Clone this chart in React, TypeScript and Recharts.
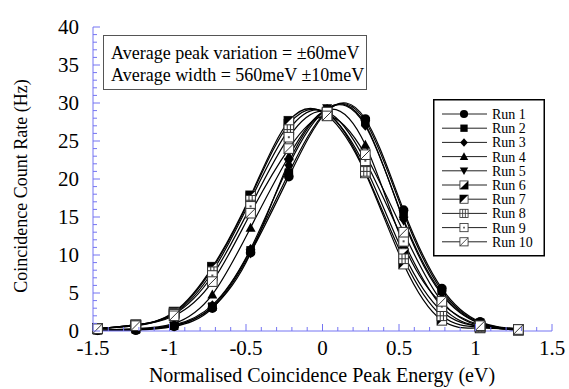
import { LineChart, Line, XAxis, YAxis } from 'recharts'

// normalised peak energy (eV) of each measured point
const energies = [-1.47, -1.22, -0.97, -0.72, -0.47, -0.22, 0.03, 0.28, 0.53, 0.78, 1.03, 1.28]

// coincidence count rate (Hz) per run
const run1 = [0.1, 0.1, 0.6, 3.0, 10.3, 20.3, 28.9, 27.9, 15.9, 5.6, 1.2, 0.3]
const run2 = [0.1, 0.2, 0.7, 3.2, 10.6, 20.8, 29.0, 27.6, 15.5, 5.3, 1.1, 0.3]
const run3 = [0.1, 0.2, 0.8, 3.4, 10.8, 21.8, 29.2, 27.0, 14.7, 5.0, 1.0, 0.2]
const run4 = [0.1, 0.3, 1.0, 4.8, 13.6, 23.0, 29.1, 24.5, 11.4, 3.6, 0.8, 0.2]
const run5 = [0.1, 0.2, 0.7, 3.1, 10.2, 22.2, 29.3, 27.2, 14.5, 4.8, 1.0, 0.2]
const run6 = [0.3, 0.8, 2.4, 8.2, 17.6, 27.2, 28.6, 21.6, 10.2, 2.6, 0.6, 0.2]
const run7 = [0.3, 0.8, 2.5, 8.4, 17.8, 27.6, 28.4, 20.8, 8.8, 1.4, 0.4, 0.1]
const run8 = [0.3, 0.8, 2.3, 7.8, 17.2, 26.5, 28.7, 21.0, 9.5, 2.0, 0.5, 0.1]
const run9 = [0.3, 0.7, 2.2, 7.3, 16.4, 25.5, 28.8, 22.4, 11.8, 3.2, 0.6, 0.2]
const run10 = [0.3, 0.7, 2.0, 6.5, 15.5, 24.0, 28.3, 23.2, 13.0, 3.9, 0.7, 0.2]

const runNames = ['Run 1', 'Run 2', 'Run 3', 'Run 4', 'Run 5', 'Run 6', 'Run 7', 'Run 8', 'Run 9', 'Run 10']
const runMarkers = ['circle', 'square', 'diamond', 'up', 'down', 'halfLR', 'halfUL', 'grid', 'dot', 'slash']

const xMajorTicks = [-1.5, -1, -0.5, 0, 0.5, 1, 1.5]
const yMajorTicks = [0, 5, 10, 15, 20, 25, 30, 35, 40]
const X_MINOR_STEP = 0.1
const Y_MINOR_STEP = 1

const notes = ['Average peak variation = \u00b160meV', 'Average width = 560meV \u00b110meV']
const xTitle = 'Normalised Coincidence Peak Energy (eV)'
const yTitle = 'Coincidence Count Rate (Hz)'

const FONT = '"Liberation Serif", "Times New Roman", serif'
const AXIS_BLUE = '#7474f2'

const allRuns = [run1, run2, run3, run4, run5, run6, run7, run8, run9, run10]

const chartData = energies.map((x, i) => {
  const row: Record<string, number> = { x }
  allRuns.forEach((r, k) => {
    row[`r${k + 1}`] = r[i]
  })
  return row
})

function minorTicks(majors: number[], step: number) {
  const out: number[] = []
  const lo = majors[0]
  const hi = majors[majors.length - 1]
  const n = Math.round((hi - lo) / step)
  for (let i = 0; i <= n; i++) out.push(+(lo + i * step).toFixed(4))
  return out
}

const xTicks = minorTicks(xMajorTicks, X_MINOR_STEP)
const yTicks = minorTicks(yMajorTicks, Y_MINOR_STEP)

const isMajor = (v: number, majors: number[]) => majors.some((m) => Math.abs(m - v) < 1e-6)

function Marker({ kind, cx, cy }: { kind: string; cx: number; cy: number }) {
  const s = 4.8
  const box = { x: cx - s, y: cy - s, width: 2 * s, height: 2 * s }
  const openBox = <rect {...box} fill="#fff" stroke="#333" strokeWidth={1} />
  switch (kind) {
    case 'circle':
      return <circle cx={cx} cy={cy} r={4.8} fill="#000" />
    case 'square':
      return <rect x={cx - 4.3} y={cy - 4.3} width={8.6} height={8.6} fill="#000" />
    case 'diamond':
      return <polygon points={`${cx},${cy - 5} ${cx + 4.5},${cy} ${cx},${cy + 5} ${cx - 4.5},${cy}`} fill="#000" />
    case 'up':
      return <polygon points={`${cx},${cy - 5} ${cx + 5},${cy + 4} ${cx - 5},${cy + 4}`} fill="#000" />
    case 'down':
      return <polygon points={`${cx},${cy + 5} ${cx + 5},${cy - 4} ${cx - 5},${cy - 4}`} fill="#000" />
    case 'halfLR':
      return (
        <g>
          {openBox}
          <polygon points={`${cx - s},${cy + s} ${cx + s},${cy + s} ${cx + s},${cy - s}`} fill="#000" />
        </g>
      )
    case 'halfUL':
      return (
        <g>
          {openBox}
          <polygon points={`${cx - s},${cy - s} ${cx + s},${cy - s} ${cx - s},${cy + s}`} fill="#000" />
        </g>
      )
    case 'grid':
      return (
        <g>
          {openBox}
          <line x1={cx - s / 3} y1={cy - s} x2={cx - s / 3} y2={cy + s} stroke="#333" />
          <line x1={cx + s / 3} y1={cy - s} x2={cx + s / 3} y2={cy + s} stroke="#333" />
          <line x1={cx - s} y1={cy} x2={cx + s} y2={cy} stroke="#333" />
        </g>
      )
    case 'dot':
      return (
        <g>
          {openBox}
          <rect x={cx - 1} y={cy - 1} width={2} height={2} fill="#555" />
        </g>
      )
    default:
      return (
        <g>
          {openBox}
          <line x1={cx - s} y1={cy + s} x2={cx + s} y2={cy - s} stroke="#333" />
        </g>
      )
  }
}

// tick renderers: ticks point into the plot, labels only on the bottom/left majors
function BottomTick({ x, y, payload }: any) {
  const major = isMajor(payload.value, xMajorTicks)
  return (
    <g>
      <line x1={x} y1={y} x2={x} y2={y - (major ? 7 : 4)} stroke={AXIS_BLUE} />
      {major && (
        <text x={x} y={y + 24} textAnchor="middle" fontSize={21} fontFamily={FONT} fill="#000">
          {payload.value}
        </text>
      )}
    </g>
  )
}

function TopTick({ x, y, payload }: any) {
  const major = isMajor(payload.value, xMajorTicks)
  return <line x1={x} y1={y} x2={x} y2={y + (major ? 7 : 4)} stroke={AXIS_BLUE} />
}

function LeftTick({ x, y, payload }: any) {
  const major = isMajor(payload.value, yMajorTicks)
  return (
    <g>
      <line x1={x} y1={y} x2={x + (major ? 7 : 4)} y2={y} stroke={AXIS_BLUE} />
      {major && (
        <text x={x - 14} y={y + 7} textAnchor="end" fontSize={21} fontFamily={FONT} fill="#000">
          {payload.value}
        </text>
      )}
    </g>
  )
}

function RightTick({ x, y, payload }: any) {
  const major = isMajor(payload.value, yMajorTicks)
  return <line x1={x} y1={y} x2={x - (major ? 7 : 4)} y2={y} stroke={AXIS_BLUE} />
}

export default function App() {
  return (
    <div style={{ position: 'absolute', left: 0, top: 0, width: 569, height: 389, background: '#fff' }}>
      <LineChart width={569} height={389} data={chartData} margin={{ top: 27, right: 17, bottom: 0, left: 0 }}>
        <XAxis
          xAxisId="b"
          dataKey="x"
          type="number"
          domain={[-1.5, 1.5]}
          ticks={xTicks}
          interval={0}
          height={58}
          tickSize={0}
          tickMargin={0}
          tickLine={false}
          tick={BottomTick}
          axisLine={{ stroke: AXIS_BLUE }}
        />
        <XAxis
          xAxisId="t"
          orientation="top"
          dataKey="x"
          type="number"
          domain={[-1.5, 1.5]}
          ticks={xTicks}
          interval={0}
          height={0}
          tickSize={0}
          tickMargin={0}
          tickLine={false}
          tick={TopTick}
          axisLine={{ stroke: AXIS_BLUE }}
        />
        <YAxis
          yAxisId="l"
          type="number"
          domain={[0, 40]}
          ticks={yTicks}
          interval={0}
          width={93}
          tickSize={0}
          tickMargin={0}
          tickLine={false}
          tick={LeftTick}
          axisLine={{ stroke: AXIS_BLUE }}
        />
        <YAxis
          yAxisId="r"
          orientation="right"
          type="number"
          domain={[0, 40]}
          ticks={yTicks}
          interval={0}
          width={0}
          tickSize={0}
          tickMargin={0}
          tickLine={false}
          tick={RightTick}
          axisLine={{ stroke: AXIS_BLUE }}
        />
        {runNames.map((name, k) => (
          <Line
            key={name}
            name={name}
            xAxisId="b"
            yAxisId="l"
            dataKey={`r${k + 1}`}
            type="natural"
            stroke="#000"
            strokeWidth={1.2}
            isAnimationActive={false}
            dot={(p: any) => <Marker key={`${name}-${p.index}`} kind={runMarkers[k]} cx={p.cx} cy={p.cy} />}
            activeDot={false}
          />
        ))}
      </LineChart>

      {/* annotation, legend and axis titles */}
      <svg style={{ position: 'absolute', left: 0, top: 0 }} width={569} height={389}>
        <rect x={103.5} y={35.5} width={263} height={54} fill="#fff" stroke="#555" strokeWidth={1} />
        {notes.map((n, i) => (
          <text key={n} x={111} y={59 + i * 22} fontSize={18} fontFamily={FONT} fill="#000">
            {n}
          </text>
        ))}

        <g transform="translate(433 99)">
          <rect x={0.75} y={0.75} width={110.5} height={156} fill="#fff" stroke="#000" strokeWidth={1.5} />
          {runNames.map((name, k) => {
            const cy = 15 + k * 14.2
            return (
              <g key={name}>
                <line x1={9} y1={cy} x2={54} y2={cy} stroke="#222" strokeWidth={1} />
                <g transform={`translate(31 ${cy}) scale(0.85) translate(-31 ${-cy})`}>
                  <Marker kind={runMarkers[k]} cx={31} cy={cy} />
                </g>
                <text x={59} y={cy + 5} fontSize={14} fontFamily={FONT} fill="#000">
                  {name}
                </text>
              </g>
            )
          })}
        </g>

        <text x={322} y={382} textAnchor="middle" fontSize={20} fontFamily={FONT} fill="#000">
          {xTitle}
        </text>
        <text
          x={27}
          y={186}
          textAnchor="middle"
          fontSize={18}
          fontFamily={FONT}
          fill="#000"
          transform="rotate(-90 27 186)"
        >
          {yTitle}
        </text>
      </svg>
    </div>
  )
}
